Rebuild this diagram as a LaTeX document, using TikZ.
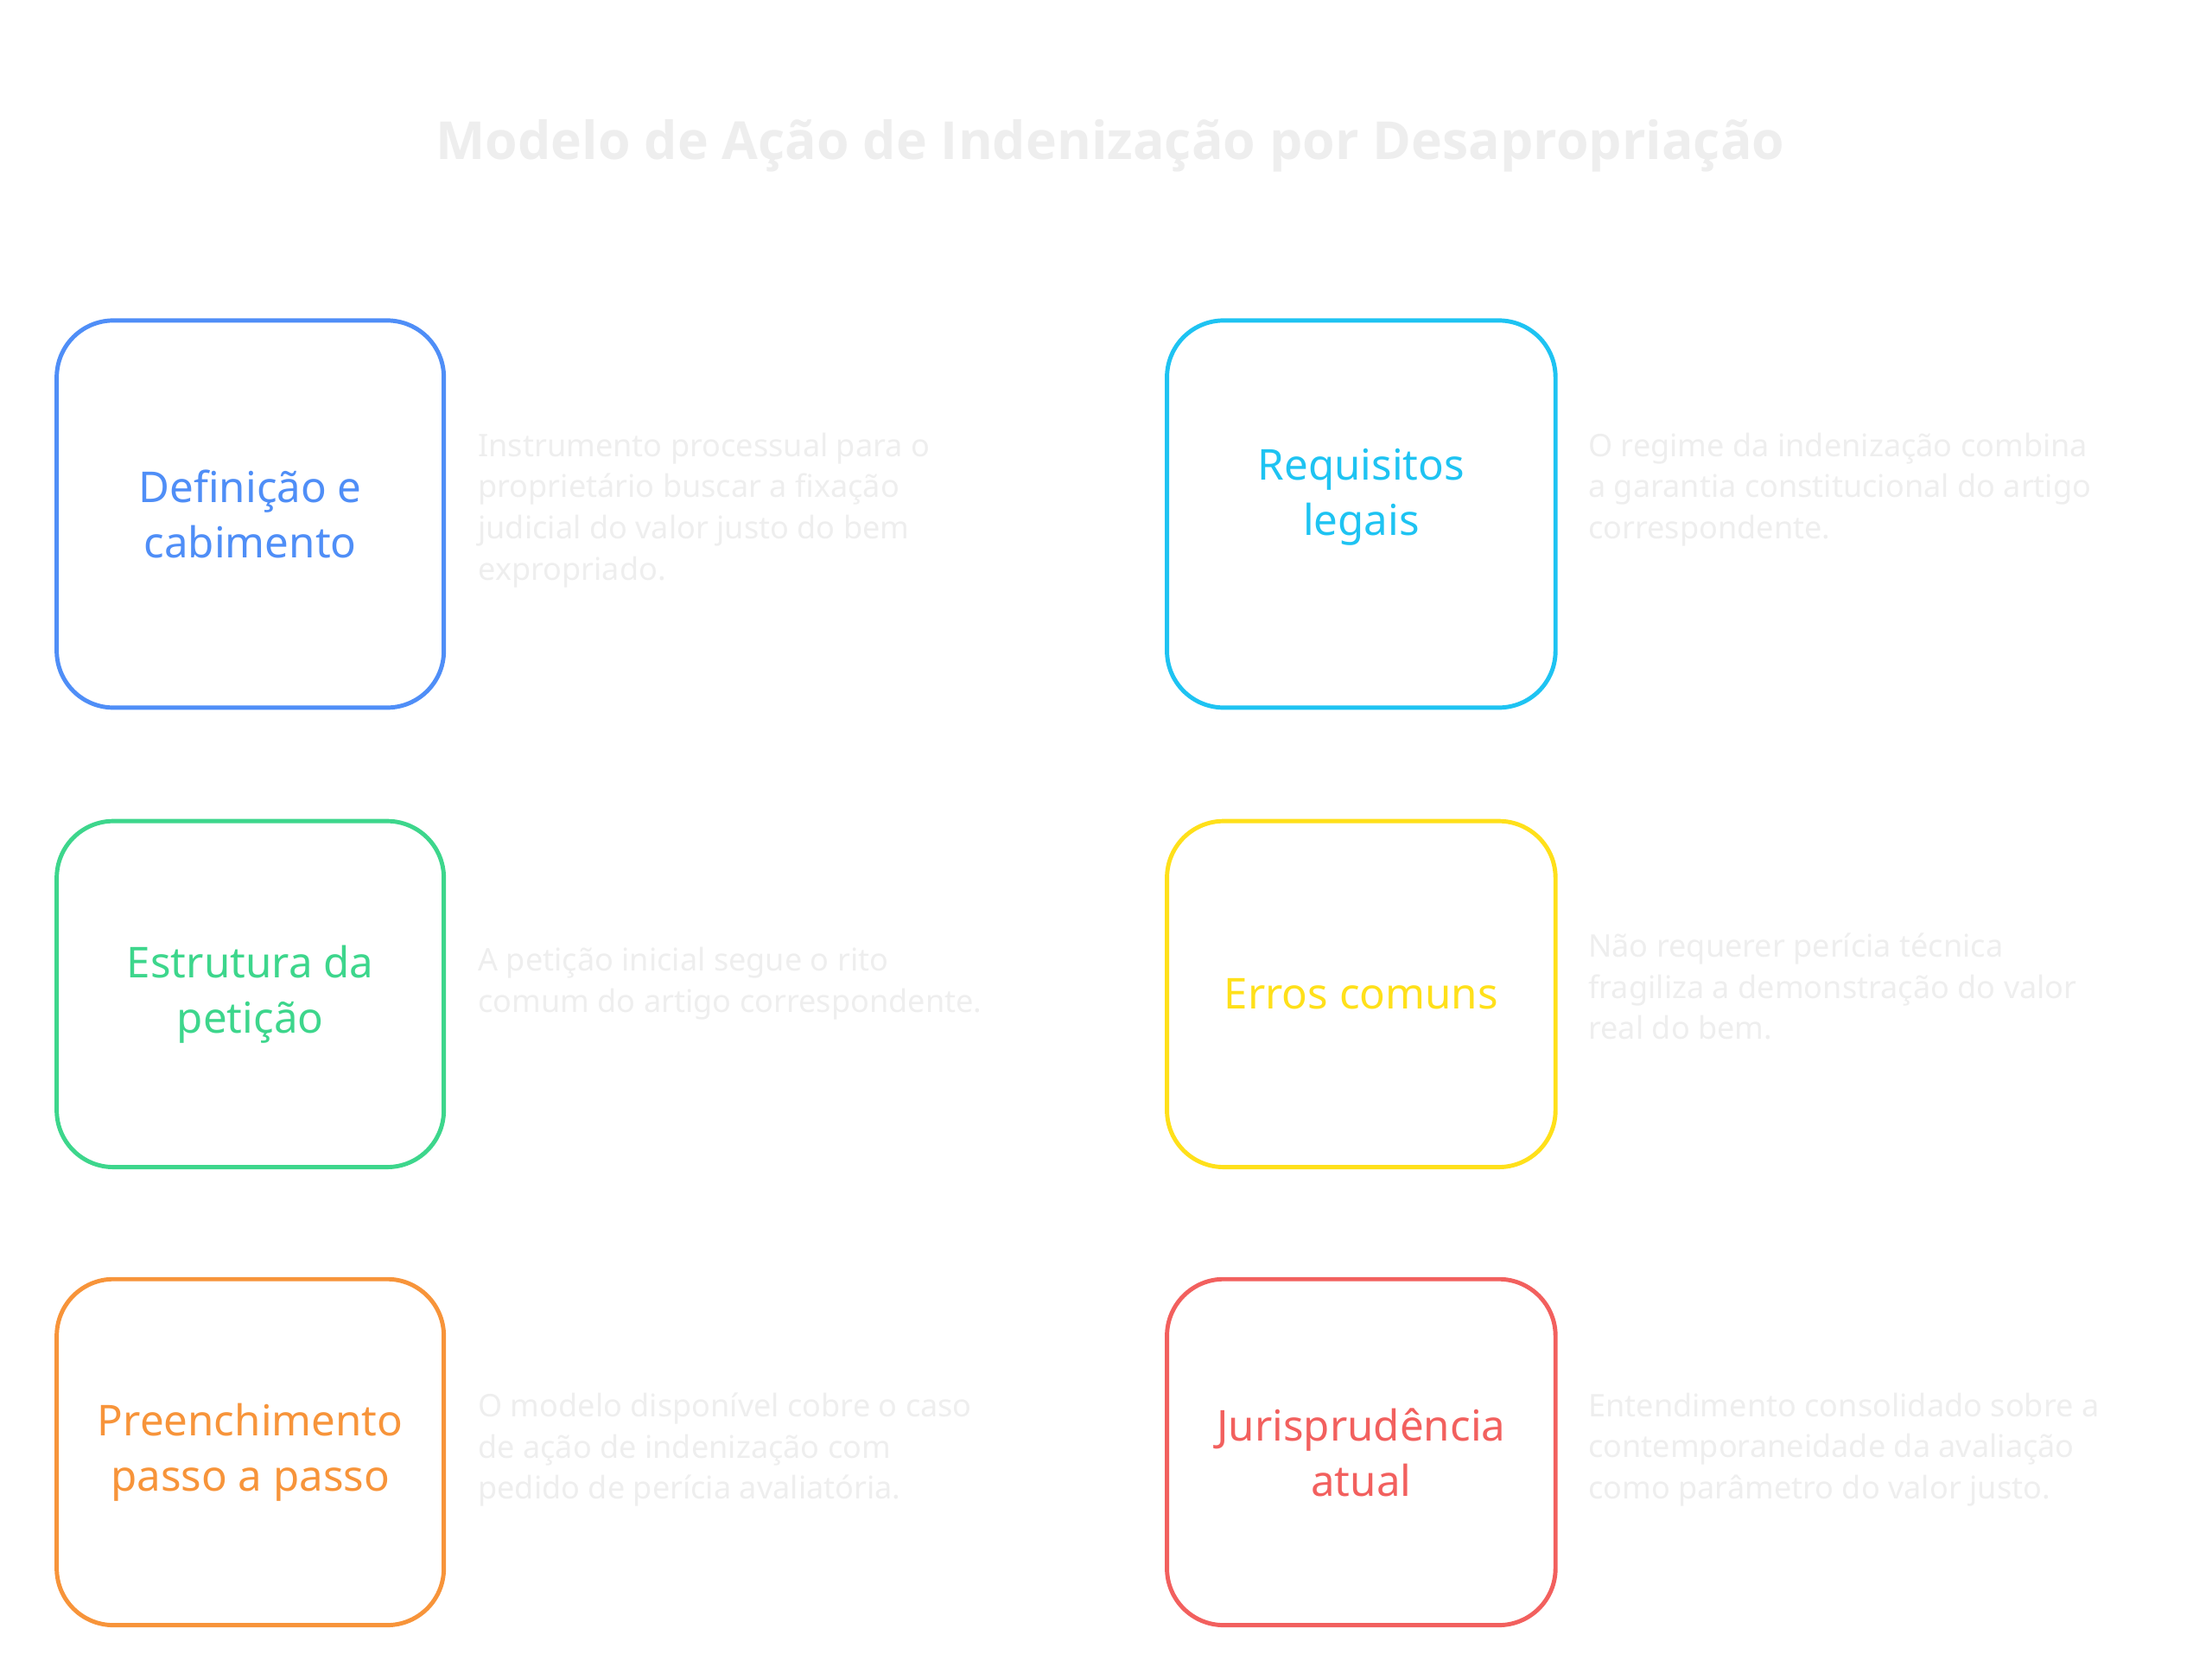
\documentclass[tikz,border=0pt]{standalone}
\usepackage{fontspec}
\setmainfont{Noto Sans}
\newfontfamily\titlefont{Open Sans}[UprightFont=*-Bold]
\definecolor{cblue}{HTML}{4F8EF7}
\definecolor{ccyan}{HTML}{1EC3F2}
\definecolor{cgreen}{HTML}{3DD68C}
\definecolor{cyel}{HTML}{FFE01A}
\definecolor{corg}{HTML}{F7943A}
\definecolor{cred}{HTML}{F2605E}
\definecolor{light}{HTML}{EEEEEE}
\begin{document}
\begin{tikzpicture}[x=1pt,y=-1pt,
 box/.style={draw=#1,line width=3pt,rounded corners=40pt,text=#1,align=center,
   font=\fontsize{30}{39}\selectfont},
 desc/.style={anchor=north west,text=light,align=left,inner sep=0pt,
   font=\fontsize{22}{29}\selectfont}]
\useasboundingbox (0,0) rectangle (1560,1166);
\node[text=light,font=\titlefont\fontsize{37}{44}\selectfont] (title) at (783,103) {Modelo de Ação de Indenização por Desapropriação};
\path[box=cblue] (40,226) rectangle (313,499) node[midway,draw=none] (b1) {Definição e\\cabimento};
\path[box=ccyan] (823,226) rectangle (1097,499) node[midway,draw=none,yshift=12pt] (b2) {Requisitos\\legais};
\path[box=cgreen] (40,579) rectangle (313,823) node[midway,draw=none] (b3) {Estrutura da\\petição};
\path[box=cyel] (823,579) rectangle (1097,823) node[midway,draw=none] (b4) {Erros comuns};
\path[box=corg] (40,902) rectangle (313,1146) node[midway,draw=none] (b5) {Preenchimento\\passo a passo};
\path[box=cred] (823,902) rectangle (1097,1146) node[midway,draw=none] (b6) {Jurisprudência\\atual};
\node[desc] (d1) at (337,305) {Instrumento processual para o\\proprietário buscar a fixação\\judicial do valor justo do bem\\expropriado.};
\node[desc] (d2) at (1120,305) {O regime da indenização combina\\a garantia constitucional do artigo\\correspondente.};
\node[desc] (d3) at (337,668) {A petição inicial segue o rito\\comum do artigo correspondente.};
\node[desc] (d4) at (1120,658) {Não requerer perícia técnica\\fragiliza a demonstração do valor\\real do bem.};
\node[desc] (d5) at (337,982) {O modelo disponível cobre o caso\\de ação de indenização com\\pedido de perícia avaliatória.};
\node[desc] (d6) at (1120,982) {Entendimento consolidado sobre a\\contemporaneidade da avaliação\\como parâmetro do valor justo.};
\end{tikzpicture}
\end{document}
